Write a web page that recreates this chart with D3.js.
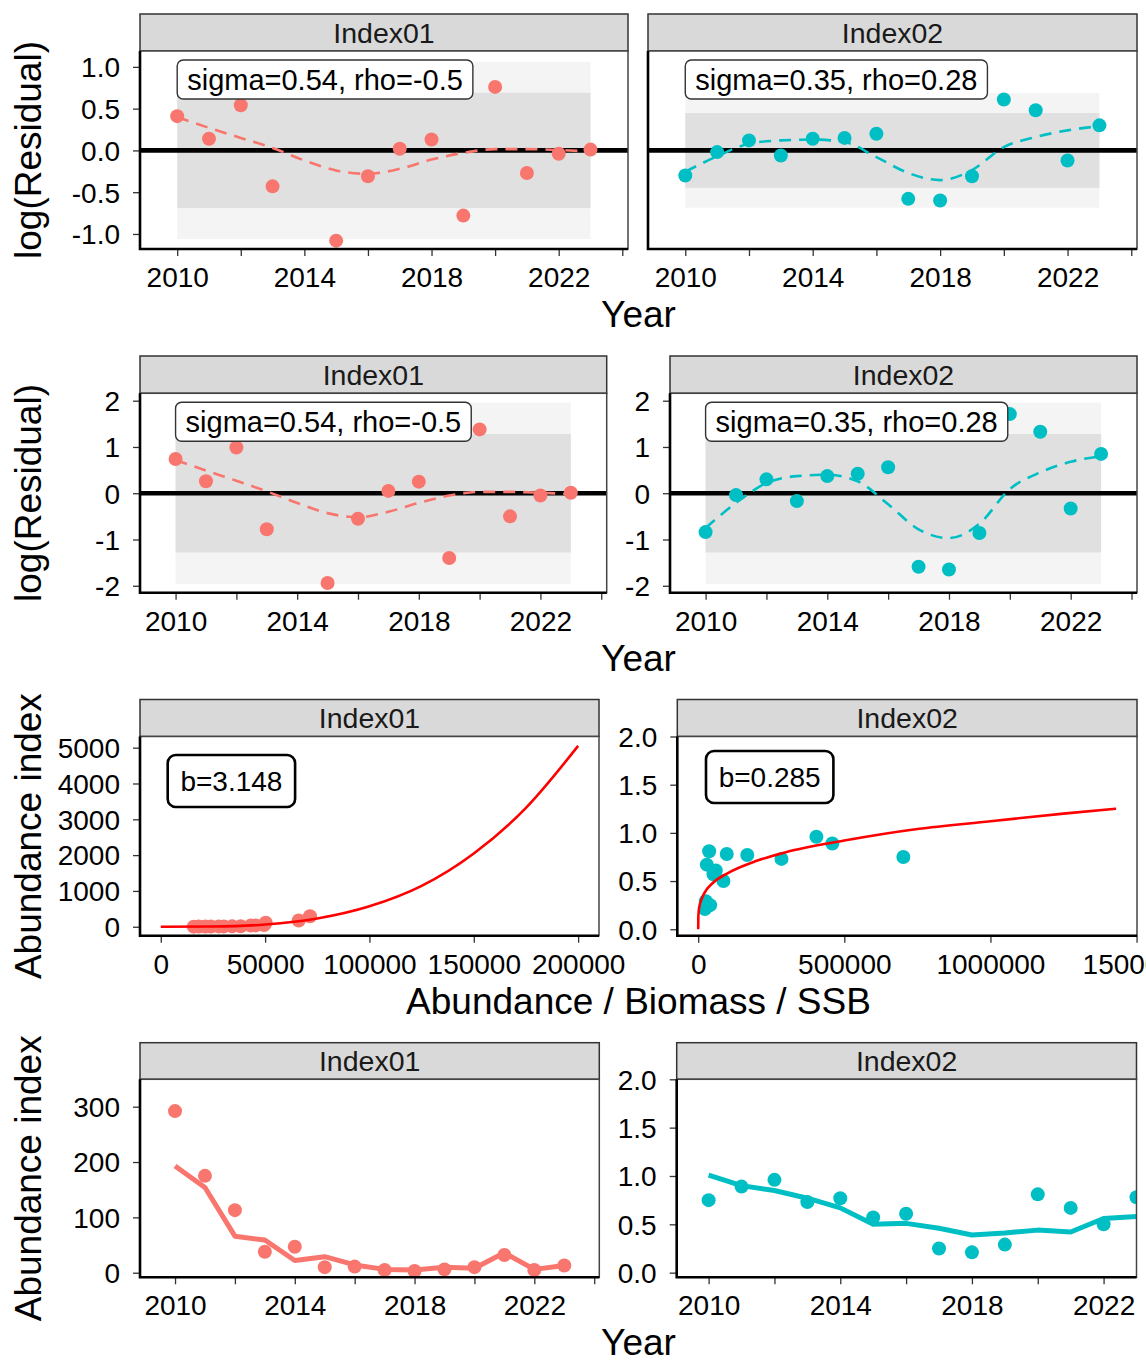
<!DOCTYPE html>
<html>
<head>
<meta charset="utf-8">
<script src="https://cdn.jsdelivr.net/npm/d3@7"></script>
<style>
  body { margin: 0; background: #fff; }
  svg { display: block; font-family: "Liberation Sans", Arial, sans-serif; }
</style>
</head>
<body>
<script>
// ---------------- data ----------------
const years = [2010, 2011, 2012, 2013, 2014, 2015, 2016, 2017, 2018, 2019, 2020, 2021, 2022, 2023];
const indexNames = ["Index01", "Index02"];
const indexColors = ["#F8766D", "#00BFC4"];

// row 1: log residuals
const residLog01 = [0.41, 0.14, 0.54, -0.43, null, -1.08, -0.31, 0.02, 0.13, -0.78, 0.76, -0.27, -0.04, 0.01];
const residLog02 = [-0.30, -0.02, 0.12, -0.06, 0.14, 0.15, 0.20, -0.58, -0.60, -0.31, 0.61, 0.48, -0.12, 0.30];
const smoothLog01 = [0.40, 0.27, 0.15, 0.03, -0.12, -0.24, -0.28, -0.22, -0.11, -0.03, 0.015, 0.015, 0.005, -0.015];
const smoothLog02 = [-0.255, -0.07, 0.08, 0.12, 0.13, 0.10, -0.08, -0.27, -0.355, -0.235, 0.04, 0.16, 0.24, 0.29];
const bandLog01 = [1.06, 0.69];
const bandLog02 = [0.686, 0.448];

// row 2: standardised residuals
const residStd01 = [0.74, 0.26, 0.99, -0.78, null, -1.94, -0.55, 0.05, 0.25, -1.40, 1.38, -0.50, -0.05, 0.01];
const residStd02 = [-0.84, -0.04, 0.30, -0.17, 0.37, 0.42, 0.56, -1.59, -1.65, -0.86, 1.71, 1.33, -0.33, 0.85];
const smoothStd01 = [0.72, 0.49, 0.27, 0.04, -0.21, -0.43, -0.52, -0.40, -0.21, -0.05, 0.03, 0.03, 0.01, -0.02];
const smoothStd02 = [-0.75, -0.21, 0.22, 0.37, 0.40, 0.26, -0.24, -0.78, -0.97, -0.66, 0.09, 0.45, 0.68, 0.80];
const bandStd = [1.96, 1.28];

const sigmaLabels = ["sigma=0.54, rho=-0.5", "sigma=0.35, rho=0.28"];

// rows 3-4: observed / predicted index and stock size
const obs01 = [292, 175, 113, 38, 47, 10, 11, 5, 3, 6, 10, 32, 5, 13];
const pred01 = [193, 154, 66, 59, 22, 29, 14, 6, 5, 10, 8, 36, 6, 13];
const abund01 = [71500, 66100, 50300, 45500, 49500, 27800, 34200, 18200, 15800, 24000, 30200, 43100, 21400, 38300];
const obs02 = [0.75, 0.89, 0.96, 0.73, 0.77, 0.57, 0.61, 0.25, 0.21, 0.29, 0.81, 0.67, 0.50, 0.78];
const pred02 = [1.01, 0.90, 0.85, 0.77, 0.67, 0.50, 0.51, 0.46, 0.39, 0.41, 0.44, 0.42, 0.56, 0.58];
const biomass02 = [702000, 459000, 404500, 285000, 168000, 52300, 60200, 40900, 22700, 26100, 37500, 29500, 86400, 97700];

// fitted power curves
const curve01X = [0, 25000, 50000, 75000, 100000, 125000, 150000, 175000, 200000];
const curve01Y = [0, 7, 64, 230, 570, 1140, 2045, 3320, 5050];
const curve02X = [0, 500, 2000, 5000, 10000, 20000, 50000, 100000, 200000, 300000, 500000, 750000, 1000000, 1250000, 1430000];
const curve02Y = [0, 0.13, 0.19, 0.25, 0.30, 0.37, 0.48, 0.58, 0.71, 0.80, 0.92, 1.04, 1.12, 1.20, 1.25];
const bLabels = ["b=3.148", "b=0.285"];

// ticks
const yearTicks = [2010, 2012, 2014, 2016, 2018, 2020, 2022, 2024];
const yearLabels = [2010, 2014, 2018, 2022];
const logTicks = [-1, -0.5, 0, 0.5, 1];
const stdTicks = [-2, -1, 0, 1, 2];
const abund01Ticks = [0, 50000, 100000, 150000, 200000];
const biomass02Ticks = [0, 500000, 1000000, 1500000];
const index01Ticks = [0, 1000, 2000, 3000, 4000, 5000];
const obs01Ticks = [0, 100, 200, 300];
const index02Ticks = [0, 0.5, 1, 1.5, 2];

// ---------------- layout ----------------
const W = 1146, H = 1360;
const rowBox = [
  {stripTop: 14, top: 51, bottom: 249},
  {stripTop: 356, top: 393.3, bottom: 592.7},
  {stripTop: 699.5, top: 736.5, bottom: 935.7},
  {stripTop: 1042.7, top: 1079.3, bottom: 1277.3}
];
const colBox = [
  [[140, 628], [648, 1137]],
  [[140, 606.7], [670, 1137]],
  [[140, 599], [677.3, 1137]],
  [[140, 599.3], [676.7, 1136.5]]
];

const svg = d3.select("body").append("svg")
    .attr("width", W)
    .attr("height", H);

let clipId = 0;

function panel(r, c, o) {
  const rb = rowBox[r], [left, right] = colBox[r][c];
  const x = d3.scaleLinear().domain(o.xd).range([left, right]);
  const y = d3.scaleLinear().domain(o.yd).range([rb.bottom, rb.top]);

  // strip
  svg.append("rect")
      .attr("x", left).attr("y", rb.stripTop)
      .attr("width", right - left).attr("height", rb.top - rb.stripTop)
      .attr("fill", "#d9d9d9").attr("stroke", "#333").attr("stroke-width", 1.5);
  svg.append("text")
      .attr("x", (left + right) / 2).attr("y", (rb.stripTop + rb.top) / 2 + 10.2)
      .attr("text-anchor", "middle")
      .style("font-size", "28.5px").attr("fill", "#1a1a1a")
      .text(indexNames[c]);

  svg.append("rect")
      .attr("x", left).attr("y", rb.top)
      .attr("width", right - left).attr("height", rb.bottom - rb.top)
      .attr("fill", "#fff");

  const id = "clip" + (clipId++);
  svg.append("clipPath").attr("id", id)
    .append("rect")
      .attr("x", left).attr("y", rb.top)
      .attr("width", right - left).attr("height", rb.bottom - rb.top);
  const body = svg.append("g").attr("clip-path", `url(#${id})`);

  // axes
  const labelSet = new Set(o.xLabels || o.xTicks);
  const xAxis = d3.axisBottom(x)
      .tickValues(o.xTicks.filter(t => t >= o.xd[0] && t <= o.xd[1]))
      .tickFormat(d => labelSet.has(d) ? String(d) : "")
      .tickSize(7).tickPadding(11.3);
  const gx = svg.append("g")
      .attr("transform", `translate(0,${rb.bottom})`)
      .call(xAxis);
  styleAxis(gx);

  if (o.yTicks) {
    const yAxis = d3.axisLeft(y)
        .tickValues(o.yTicks)
        .tickFormat(o.yFmt)
        .tickSize(7).tickPadding(13);
    const gy = svg.append("g")
        .attr("transform", `translate(${left},0)`)
        .call(yAxis);
    styleAxis(gy);
    gy.selectAll("text").attr("dy", "0.35em");
  }

  return {x, y, body, left, right, top: rb.top, bottom: rb.bottom};
}

function styleAxis(g) {
  g.select(".domain").remove();
  g.selectAll(".tick line").attr("stroke", "#333").attr("stroke-width", 1.3);
  g.selectAll(".tick text")
      .attr("fill", "#000")
      .style("font-size", "28px")
      .style("font-family", "'Liberation Sans', Arial, sans-serif");
}

function frame(p) {
  svg.append("rect")
      .attr("x", p.left).attr("y", p.top)
      .attr("width", p.right - p.left).attr("height", p.bottom - p.top)
      .attr("fill", "none").attr("stroke", "#444").attr("stroke-width", 1.5);
  svg.append("path")
      .attr("d", `M${p.left},${p.top}V${p.bottom}H${p.right}`)
      .attr("fill", "none").attr("stroke", "#000").attr("stroke-width", 2.6);
}

function label(x, y, text, o) {
  const g = svg.append("g");
  const t = g.append("text")
      .attr("x", x + o.padX)
      .attr("y", y + o.h / 2 + o.size * 0.355)
      .style("font-size", o.size + "px")
      .attr("fill", "#000")
      .text(text);
  const w = t.node().getComputedTextLength() + 2 * o.padX;
  g.insert("rect", "text")
      .attr("x", x).attr("y", y)
      .attr("width", w).attr("height", o.h)
      .attr("rx", o.rx).attr("ry", o.rx)
      .attr("fill", "#fff").attr("stroke", o.stroke).attr("stroke-width", o.sw);
}

function xTitle(r, text) {
  svg.append("text")
      .attr("x", 638.5).attr("y", rowBox[r].bottom + 78)
      .attr("text-anchor", "middle")
      .style("font-size", "37px").attr("fill", "#000")
      .text(text);
}

function yTitle(r, text) {
  const rb = rowBox[r];
  svg.append("text")
      .attr("transform", `translate(41,${(rb.top + rb.bottom) / 2}) rotate(-90)`)
      .attr("text-anchor", "middle")
      .style("font-size", "37px").attr("fill", "#000")
      .text(text);
}

const yearDomain = [2008.83, 2024.18];

// ---------------- rows 1 & 2: residuals ----------------
function residPanel(r, c, resid, smooth, bands, yd, yTicks, yFmt) {
  const p = panel(r, c, {
    xd: yearDomain, yd: yd,
    xTicks: yearTicks, xLabels: yearLabels,
    yTicks: yTicks, yFmt: yFmt
  });
  const x0 = p.x(years[0]), x1 = p.x(years[years.length - 1]);
  p.body.append("rect")
      .attr("x", x0).attr("width", x1 - x0)
      .attr("y", p.y(bands[0])).attr("height", p.y(-bands[0]) - p.y(bands[0]))
      .attr("fill", "#f4f4f4");
  p.body.append("rect")
      .attr("x", x0).attr("width", x1 - x0)
      .attr("y", p.y(bands[1])).attr("height", p.y(-bands[1]) - p.y(bands[1]))
      .attr("fill", "#e0e0e0");
  p.body.append("line")
      .attr("x1", p.left).attr("x2", p.right)
      .attr("y1", p.y(0)).attr("y2", p.y(0))
      .attr("stroke", "#000").attr("stroke-width", 4.6);

  const line = d3.line()
      .x((d, i) => p.x(years[i]))
      .y(d => p.y(d))
      .curve(d3.curveMonotoneX);
  p.body.append("path")
      .attr("d", line(smooth))
      .attr("fill", "none")
      .attr("stroke", indexColors[c]).attr("stroke-width", 2.6)
      .attr("stroke-dasharray", "12,8");

  const pts = years.map((yr, i) => ({yr, v: resid[i]})).filter(d => d.v != null);
  p.body.selectAll("circle.pt")
    .data(pts)
    .enter()
    .append("circle")
      .attr("cx", d => p.x(d.yr))
      .attr("cy", d => p.y(d.v))
      .attr("r", 7)
      .attr("fill", indexColors[c]);

  frame(p);
  label(x0, p.top + 9, sigmaLabels[c], {size: 29, padX: 10, h: 39, rx: 6, stroke: "#333", sw: 1.4});
  return p;
}

const logDomain = [-1.18, 1.19];
const stdDomain = [-2.15, 2.16];
// plain hyphen for negative numbers, as in the original figure
const fmt1 = d => d3.format(".1f")(d).replace("\u2212", "-");
const fmt0 = d => d3.format("d")(d).replace("\u2212", "-");

residPanel(0, 0, residLog01, smoothLog01, bandLog01, logDomain, logTicks, fmt1);
residPanel(0, 1, residLog02, smoothLog02, bandLog02, logDomain, null, null);
xTitle(0, "Year");
yTitle(0, "log(Residual)");

residPanel(1, 0, residStd01, smoothStd01, bandStd, stdDomain, stdTicks, fmt0);
residPanel(1, 1, residStd02, smoothStd02, bandStd, stdDomain, stdTicks, fmt0);
xTitle(1, "Year");
yTitle(1, "log(Residual)");

// ---------------- row 3: index vs stock size ----------------
function curvePanel(c, sx, sy, cx, cy, xd, yd, xTicks, yTicks, yFmt, boxPos) {
  const p = panel(2, c, {xd: xd, yd: yd, xTicks: xTicks, yTicks: yTicks, yFmt: yFmt});
  p.body.selectAll("circle.pt")
    .data(sx.map((v, i) => ({x: v, y: sy[i]})))
    .enter()
    .append("circle")
      .attr("cx", d => p.x(d.x))
      .attr("cy", d => p.y(d.y))
      .attr("r", 7)
      .attr("fill", indexColors[c]);
  const line = d3.line()
      .x(d => p.x(d[0]))
      .y(d => p.y(d[1]))
      .curve(d3.curveMonotoneX);
  p.body.append("path")
      .attr("d", line(cx.map((v, i) => [v, cy[i]])))
      .attr("fill", "none")
      .attr("stroke", "#ff0000").attr("stroke-width", 2.6);
  frame(p);
  label(p.left + boxPos[0], p.top + boxPos[1], bLabels[c], {size: 28, padX: 12.7, h: 52, rx: 8, stroke: "#000", sw: 2.6});
}

curvePanel(0, abund01, obs01, curve01X, curve01Y, [-9950, 210000], [-250, 5312],
  abund01Ticks, index01Ticks, fmt0, [27.7, 18.5]);
curvePanel(1, biomass02, obs02, curve02X, curve02Y, [-71500, 1501500], [-0.067, 2.0],
  biomass02Ticks, index02Ticks, fmt1, [28.7, 14.5]);
xTitle(2, "Abundance / Biomass / SSB");
yTitle(2, "Abundance index");

// ---------------- row 4: index time series ----------------
function seriesPanel(c, obs, pred, xd, yd, yTicks, yFmt) {
  const p = panel(3, c, {xd: xd, yd: yd, xTicks: yearTicks, xLabels: yearLabels, yTicks: yTicks, yFmt: yFmt});
  p.body.selectAll("circle.pt")
    .data(obs.map((v, i) => ({yr: years[i], v})))
    .enter()
    .append("circle")
      .attr("cx", d => p.x(d.yr))
      .attr("cy", d => p.y(d.v))
      .attr("r", 7)
      .attr("fill", indexColors[c]);
  const line = d3.line()
      .x((d, i) => p.x(years[i]))
      .y(d => p.y(d));
  p.body.append("path")
      .attr("d", line(pred))
      .attr("fill", "none")
      .attr("stroke", indexColors[c]).attr("stroke-width", 5)
      .attr("stroke-linejoin", "round");
  frame(p);
}

seriesPanel(0, obs01, pred01, [2008.83, 2024.17], [-8.3, 349.5], obs01Ticks, fmt0);
seriesPanel(1, obs02, pred02, [2009.03, 2023.0], [-0.048, 2.0], index02Ticks, fmt1);
xTitle(3, "Year");
yTitle(3, "Abundance index");
</script>
</body>
</html>
